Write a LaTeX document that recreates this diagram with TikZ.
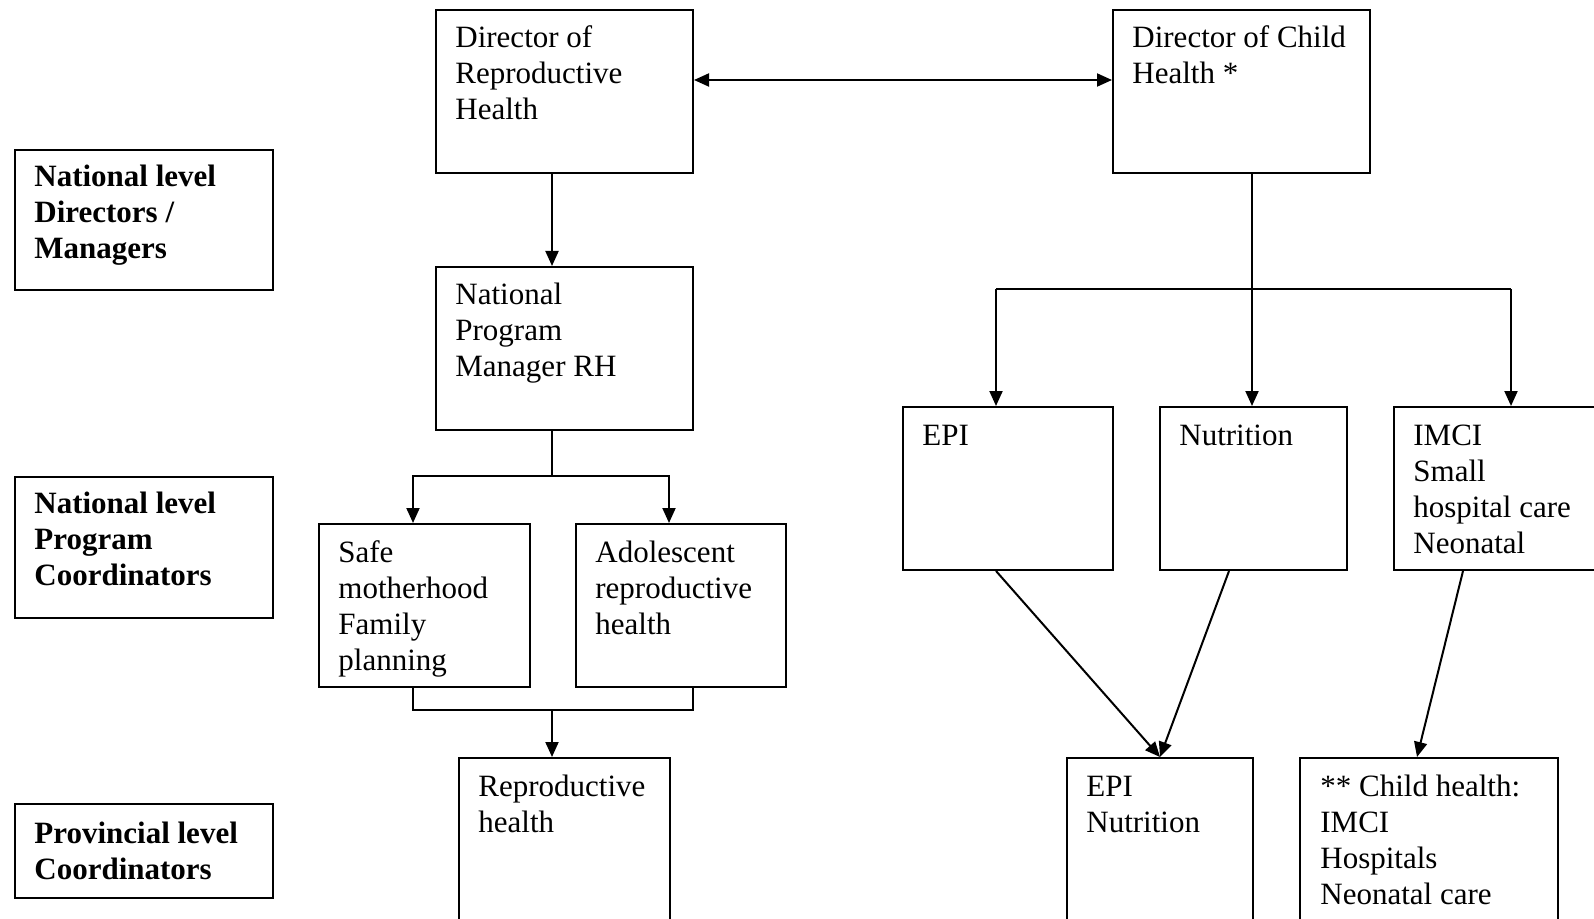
\documentclass[tikz,border=0pt]{standalone}
\usepackage{fontspec}
\setmainfont{Liberation Serif}
\usetikzlibrary{arrows.meta}
\newcommand\mltext[1]{\begin{tabular}[t]{@{}l@{}}#1\end{tabular}}
\begin{document}
\begin{tikzpicture}[x=0.5pt,y=-0.5pt,
  box/.style={draw,line width=1pt,rectangle,inner sep=0,anchor=north west},
  txt/.style={anchor=base west,inner sep=0,font=\fontsize{15.5}{18}\selectfont},
  lbl/.style={anchor=base west,inner sep=0,font=\fontsize{15.5}{18}\selectfont\bfseries},
  conn/.style={line width=1pt},
  arr/.style={conn,-{Triangle[length=7.5pt,width=6.5pt]}},
  darr/.style={conn,{Triangle[length=7.5pt,width=6.5pt]}-{Triangle[length=7.5pt,width=6.5pt]}}]
\path[use as bounding box,fill=white] (0,0) rectangle (1594,919);
\clip (0,0) rectangle (1594,919);

% boxes
\node[box,minimum width=128.5pt,minimum height=81.5pt] (drh) at (435,9) {};
\node[box,minimum width=128.5pt,minimum height=81.5pt] (dch) at (1112,9) {};
\node[box,minimum width=128.5pt,minimum height=81.5pt] (npm) at (435,266) {};
\node[box,minimum width=105.5pt,minimum height=81.5pt] (sm) at (318,523) {};
\node[box,minimum width=105pt,minimum height=81.5pt] (ar) at (575,523) {};
\node[box,minimum width=105.5pt,minimum height=100pt] (rh) at (458,757) {};
\node[box,minimum width=105pt,minimum height=81.5pt] (epi) at (902,406) {};
\node[box,minimum width=93.5pt,minimum height=81.5pt] (nut) at (1159,406) {};
\node[box,minimum width=125pt,minimum height=81.5pt] (imci) at (1393,406) {};
\node[box,minimum width=93pt,minimum height=100pt] (en) at (1066,757) {};
\node[box,minimum width=129pt,minimum height=100pt] (ch) at (1299,757) {};
\node[box,minimum width=129pt,minimum height=70pt] (l1) at (14,149) {};
\node[box,minimum width=129pt,minimum height=70.5pt] (l2) at (14,476) {};
\node[box,minimum width=129pt,minimum height=47pt] (l3) at (14,803) {};

% texts
\node[txt] (tdrh) at ([xshift=10pt,yshift=-19.5pt]drh.north west) {\mltext{Director of\\Reproductive\\Health}};
\node[txt] (tdch) at ([xshift=10pt,yshift=-19.5pt]dch.north west) {\mltext{Director of Child\\Health *}};
\node[txt] (tnpm) at ([xshift=10pt,yshift=-19.5pt]npm.north west) {\mltext{National\\Program\\Manager RH}};
\node[txt] (tsm) at ([xshift=10pt,yshift=-19.5pt]sm.north west) {\mltext{Safe\\motherhood\\Family\\planning}};
\node[txt] (tar) at ([xshift=10pt,yshift=-19.5pt]ar.north west) {\mltext{Adolescent\\reproductive\\health}};
\node[txt] (trh) at ([xshift=10pt,yshift=-19.5pt]rh.north west) {\mltext{Reproductive\\health}};
\node[txt] (tepi) at ([xshift=10pt,yshift=-19.5pt]epi.north west) {EPI};
\node[txt] (tnut) at ([xshift=10pt,yshift=-19.5pt]nut.north west) {Nutrition};
\node[txt] (timci) at ([xshift=10pt,yshift=-19.5pt]imci.north west) {\mltext{IMCI\\Small\\hospital care\\Neonatal}};
\node[txt] (ten) at ([xshift=10pt,yshift=-19.5pt]en.north west) {\mltext{EPI\\Nutrition}};
\node[txt] (tch) at ([xshift=10.5pt,yshift=-19.5pt]ch.north west) {\mltext{** Child health:\\IMCI\\Hospitals\\Neonatal care}};
\node[lbl] (tl1) at ([xshift=10pt,yshift=-19pt]l1.north west) {\mltext{National level\\Directors /\\Managers}};
\node[lbl] (tl2) at ([xshift=10pt,yshift=-18.5pt]l2.north west) {\mltext{National level\\Program\\Coordinators}};
\node[lbl] (tl3) at ([xshift=10pt,yshift=-20pt]l3.north west) {\mltext{Provincial level\\Coordinators}};

% junction coordinates
\coordinate (j1) at (552,476);
\coordinate (j2) at (552,710);
\coordinate (j3) at (1252,289);
\coordinate (ja) at (996,289);
\coordinate (jb) at (1511,289);

% connectors
\draw[darr] ([yshift=5.75pt]drh.east) -- ([yshift=5.75pt]dch.west);
\draw[arr] (j1 |- drh.south) -- (j1 |- npm.north);
\draw[conn] (j1 |- npm.south) -- (j1);
\draw[arr] (j1) -| ([xshift=-5.75pt]sm.north);
\draw[arr] (j1) -| ([xshift=-6pt]ar.north);
\draw[conn] ([xshift=-5.75pt]sm.south) |- (j2) -| ([xshift=6pt]ar.south);
\draw[arr] (j2) -- (j2 |- rh.north);

\draw[conn] (j3 |- dch.south) -- (j3);
\draw[conn] (ja) -- (jb);
\draw[arr] (ja) -- (ja |- epi.north);
\draw[arr] (j3) -- (j3 |- nut.north);
\draw[arr] (jb) -- (jb |- imci.north);

\draw[arr] ([xshift=47pt]epi.south west) -- (en.north);
\draw[arr] ([xshift=35pt]nut.south west) -- (en.north);
\draw[arr] ([xshift=35pt]imci.south west) -- ([xshift=59pt]ch.north west);
\end{tikzpicture}
\end{document}
